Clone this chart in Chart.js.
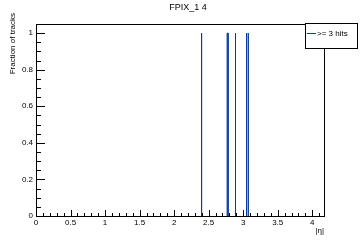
<!DOCTYPE html>
<html><head><meta charset="utf-8">
<script src="https://cdn.jsdelivr.net/npm/chart.js@4/dist/chart.umd.min.js"></script>
<style>html,body{margin:0;padding:0;background:#fff;}#c{display:block}</style>
</head><body>
<canvas id="c" width="360" height="240"></canvas>
<script>
const chartTitle = 'FPIX_1 4';
const xTitle = '|η|';
const yTitle = 'Fraction of tracks';
const seriesLabel = '>= 3 hits';
// histogram bins with non-zero content (|eta| bin edges) and their fraction
const binLow  = [2.395, 2.767, 2.886, 3.046, 3.071];
const binHigh = [2.399, 2.781, 2.890, 3.050, 3.075];
const fraction = [1, 1, 1, 1, 1];
const xRange = [0, 4.17];
const yRange = [0, 1.05];
const xTickStep = 0.5, yTickStep = 0.2;

const FONT = "'Liberation Sans', Arial, sans-serif";
const BLUE = '#0a3a9c';

const pts = [];
for (let i = 0; i < binLow.length; i++) {
  pts.push({x: binLow[i], y: 0}, {x: binLow[i], y: fraction[i]},
           {x: binHigh[i], y: fraction[i]}, {x: binHigh[i], y: 0},
           {x: binHigh[i], y: null});
}

const fmt = v => String(+(+v).toFixed(2));

const rootStyle = {
  id: 'rootStyle',
  afterDatasetsDraw(chart) {
    const ctx = chart.ctx, a = chart.chartArea;
    const xs = chart.scales.x, ys = chart.scales.y;
    ctx.save();
    ctx.strokeStyle = '#000'; ctx.lineWidth = 1;
    ctx.beginPath();
    for (let k = 0; k * 0.1 <= xRange[1] + 1e-9; k++) {
      const v = k * 0.1;
      const len = (k % 5 === 0) ? 6 : 3;
      const px = Math.round(xs.getPixelForValue(v)) + 0.5;
      ctx.moveTo(px, a.bottom); ctx.lineTo(px, a.bottom - len);
    }
    for (let k = 0; k * 0.05 <= yRange[1] + 1e-9; k++) {
      const v = k * 0.05;
      const len = (k % 4 === 0) ? 9 : 5;
      const py = Math.round(ys.getPixelForValue(v)) + 0.5;
      ctx.moveTo(a.left, py); ctx.lineTo(a.left + len, py);
    }
    ctx.stroke();
    ctx.strokeRect(Math.round(a.left) + 0.5, Math.round(a.top) + 0.5,
                   Math.round(a.right - a.left), Math.round(a.bottom - a.top));
    ctx.restore();
  },
  afterDraw(chart) {
    const ctx = chart.ctx, a = chart.chartArea;
    ctx.save();
    ctx.fillStyle = '#000';
    ctx.font = '9px ' + FONT;
    ctx.textAlign = 'center'; ctx.textBaseline = 'alphabetic';
    ctx.fillText(chartTitle, 188, 10);
    ctx.font = '8px ' + FONT;
    ctx.textAlign = 'right';
    ctx.fillText(xTitle, a.right, 233);
    ctx.save();
    ctx.translate(15, 13); ctx.rotate(-Math.PI / 2);
    ctx.textAlign = 'right';
    ctx.fillText(yTitle, 0, 0);
    ctx.restore();
    // legend
    ctx.fillStyle = '#fff';
    ctx.fillRect(305, 23, 53, 26);
    ctx.strokeStyle = '#000'; ctx.lineWidth = 1;
    ctx.strokeRect(305.5, 23.5, 52, 25);
    ctx.strokeStyle = BLUE;
    ctx.beginPath(); ctx.moveTo(307, 33.5); ctx.lineTo(316, 33.5); ctx.stroke();
    ctx.fillStyle = '#000';
    ctx.font = '8px ' + FONT;
    ctx.textAlign = 'left'; ctx.textBaseline = 'middle';
    ctx.fillText(seriesLabel, 317, 34);
    ctx.restore();
  }
};

new Chart(document.getElementById('c'), {
  type: 'scatter',
  data: { datasets: [{ label: seriesLabel, data: pts, showLine: true, spanGaps: false,
    borderColor: BLUE, borderWidth: 1, pointRadius: 0, fill: false, tension: 0 }] },
  options: {
    responsive: false, animation: false, devicePixelRatio: 1,
    layout: { padding: { top: 24, right: 36, left: 0, bottom: 0 } },
    plugins: { legend: { display: false }, title: { display: false }, tooltip: { enabled: false } },
    scales: {
      x: { type: 'linear', min: xRange[0], max: xRange[1],
        grid: { display: false, drawTicks: false }, border: { display: false },
        ticks: { stepSize: xTickStep, includeBounds: false, padding: 2, maxRotation: 0,
          color: '#000', font: { family: FONT, size: 8 }, callback: fmt },
        afterFit(s) { s.height = 24; } },
      y: { type: 'linear', min: yRange[0], max: yRange[1],
        grid: { display: false, drawTicks: false }, border: { display: false },
        ticks: { stepSize: yTickStep, includeBounds: false, padding: 3,
          color: '#000', font: { family: FONT, size: 8 }, callback: fmt },
        afterFit(s) { s.width = 36; } }
    }
  },
  plugins: [rootStyle]
});
</script>
</body></html>
